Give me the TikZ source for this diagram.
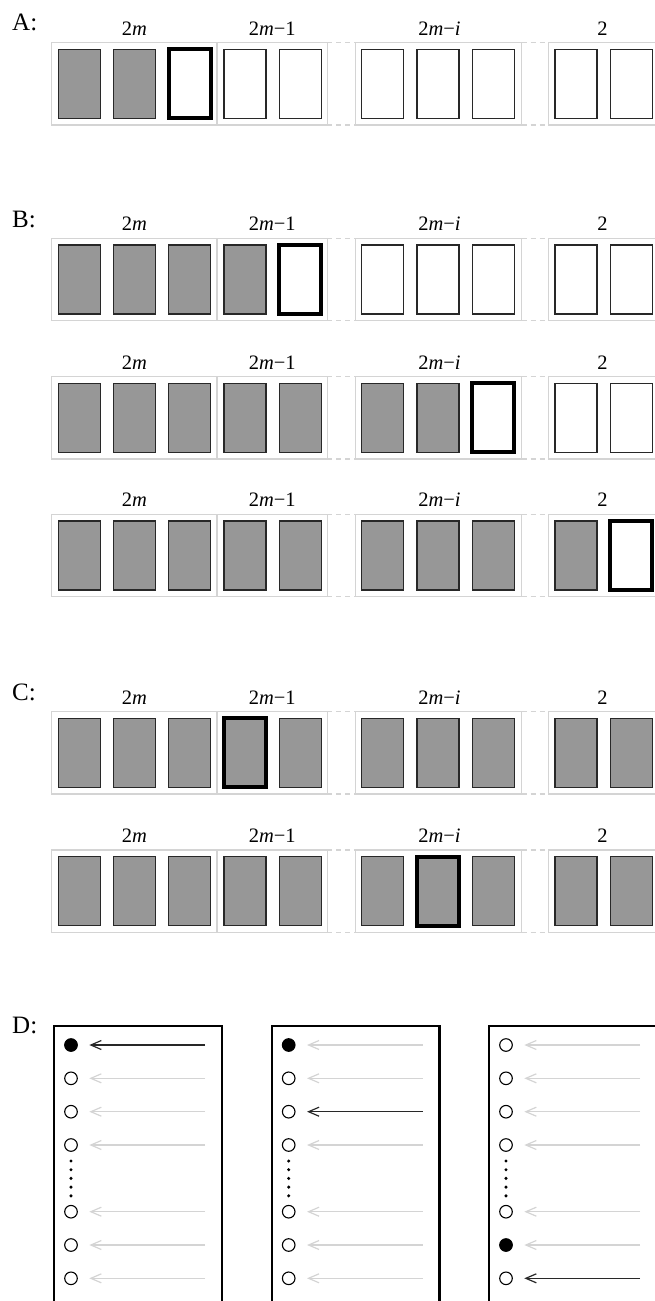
\documentclass[tikz,border=0pt]{standalone}
\usepackage{fontspec}
\setmainfont{Liberation Serif}
\usetikzlibrary{arrows.meta}
\definecolor{cellfill}{RGB}{151,151,151}
\definecolor{celldraw}{RGB}{40,40,40}
\definecolor{boxgray}{RGB}{212,212,212}
\definecolor{arrgray}{RGB}{212,212,212}
\definecolor{arrdark}{RGB}{40,40,40}
\tikzset{
  cellbase/.style={rectangle, anchor=north west, inner sep=0pt, outer sep=0pt,
    minimum width=42pt, minimum height=69pt},
  g/.style={cellbase, fill=cellfill, draw=celldraw, line width=1.1pt},
  w/.style={cellbase, fill=white, draw=celldraw, line width=1.1pt},
  G/.style={cellbase, fill=cellfill, draw=black, line width=4pt},
  W/.style={cellbase, fill=white, draw=black, line width=4pt},
  boxline/.style={draw=boxgray, line width=1.3pt},
  gapline/.style={draw=boxgray, line width=1.3pt, dash pattern=on 5pt off 4pt},
  grplabel/.style={anchor=base, inner sep=0pt, font=\fontsize{20.5}{24}\selectfont},
  seclabel/.style={anchor=base west, inner sep=0pt, font=\fontsize{25}{30}\selectfont},
  dbox/.style={draw=black, line width=2.2pt},
  dot/.style={circle, draw=black, line width=1.1pt, minimum size=12.6pt, inner sep=0pt},
  fdot/.style={dot, fill=black},
  garr/.style={draw=arrgray, line width=1.2pt, -{Straight Barb[length=10.5pt,width=9pt]}},
  darr/.style={draw=arrdark, line width=1.2pt, -{Straight Barb[length=10.5pt,width=9pt]}},
}
\def\cellx{{58.3,113.6,168.9,224,279.3,361.7,417,472.3,555,610.3}}
\newcommand\myrow[3]{%
  \draw[boxline] (51.7,#2) rectangle (327.3,#2+82.3);
  \draw[boxline] (217,#2) -- (217,#2+82.3);
  \draw[boxline] (355.7,#2) rectangle (521.7,#2+82.3);
  \draw[boxline] (548.3,#2) rectangle (658.6,#2+82.3);
  \draw[gapline] (327.3,#2) -- (355.7,#2);
  \draw[gapline] (327.3,#2+82.3) -- (355.7,#2+82.3);
  \draw[gapline] (521.7,#2) -- (548.3,#2);
  \draw[gapline] (521.7,#2+82.3) -- (548.3,#2+82.3);
  \foreach \st [count=\k from 0] in {#3} {%
    \pgfmathsetmacro\cx{\cellx[\k]}
    \node[\st] (#1c\k) at (\cx,#2+6.7) {};
  }
  \node[grplabel] (#1la) at (134.4,#2-7.7) {2\textit{m}};
  \node[grplabel] (#1lb) at (272.2,#2-7.7) {2\textit{m}−1};
  \node[grplabel] (#1lc) at (439.5,#2-7.7) {2\textit{m}−\textit{i}};
  \node[grplabel] (#1ld) at (602.5,#2-7.7) {2};
}
% D panel: #1 name, #2 left x, #3 filled row, #4 dark arrow row
\newcommand\dpanel[4]{%
  \draw[dbox] (#2,1320) -- (#2,1025.7) -- (#2+167.7,1025.7) -- (#2+167.7,1320);
  \foreach \yy [count=\k] in {1045,1078.3,1111.7,1145,1211.7,1245,1278.3} {%
    \ifnum\k=#3\relax
      \node[fdot] (#1p\k) at (#2+17,\yy) {};
    \else
      \node[dot] (#1p\k) at (#2+17,\yy) {};
    \fi
    \coordinate (#1s\k) at (#2+151,\yy);
    \coordinate (#1t\k) at (#2+35.3,\yy);
    \ifnum\k=#4\relax
      \draw[darr] (#1s\k) -- (#1t\k);
    \else
      \draw[garr] (#1s\k) -- (#1t\k);
    \fi
  }
  \foreach \yy in {1161,1169.7,1178.4,1187.1,1195.8} {%
    \fill[black] (#2+17,\yy) circle (1.7pt);
  }
}
\begin{document}
\begin{tikzpicture}[x=1pt,y=-1pt]
\useasboundingbox (0,0) rectangle (655,1301);
\clip (0,0) rectangle (655,1301);
\node[seclabel] (labA) at (12,30) {A:};
\node[seclabel] (labB) at (12,227) {B:};
\node[seclabel] (labC) at (12,700) {C:};
\node[seclabel] (labD) at (12,1033) {D:};
\myrow{a}{42.7}{g,g,W,w,w,w,w,w,w,w}
\myrow{ba}{238.3}{g,g,g,g,W,w,w,w,w,w}
\myrow{bb}{376.7}{g,g,g,g,g,g,g,W,w,w}
\myrow{bc}{514.3}{g,g,g,g,g,g,g,g,g,W}
\myrow{ca}{711.7}{g,g,g,G,g,g,g,g,g,g}
\myrow{cb}{850}{g,g,g,g,g,g,G,g,g,g}
\dpanel{da}{54}{1}{1}
\dpanel{db}{271.7}{1}{3}
\dpanel{dc}{489}{6}{7}
\end{tikzpicture}
\end{document}
